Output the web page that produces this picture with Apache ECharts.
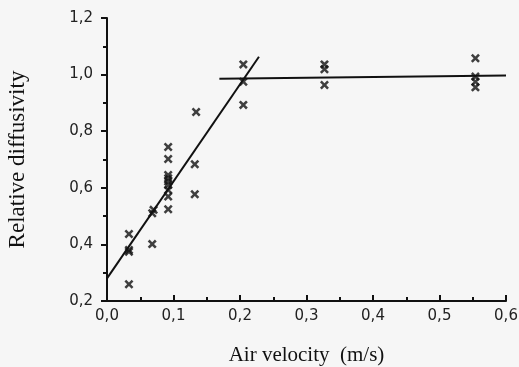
<!DOCTYPE html>
<html>
<head>
<meta charset="utf-8">
<script src="https://cdn.jsdelivr.net/npm/echarts@6/dist/echarts.min.js"></script>
<style>
html,body{margin:0;padding:0;background:#f6f6f6;}
#chart{width:519px;height:367px;}
</style>
</head>
<body>
<div id="chart"></div>
<script>
// Measured points (air velocity m/s, relative diffusivity)
const velocity = [0.033,0.033,0.033,0.033, 0.068,0.070,0.068,
  0.092,0.092,0.092,0.092,0.092,0.092,0.092,0.092,0.092,
  0.132,0.132,0.134, 0.205,0.205,0.205, 0.327,0.327,0.327,
  0.554,0.554,0.554,0.554];
const diffusivity = [0.259,0.437,0.374,0.380, 0.401,0.522,0.510,
  0.744,0.702,0.645,0.634,0.622,0.610,0.592,0.569,0.524,
  0.683,0.577,0.868, 1.036,0.975,0.893, 1.036,1.019,0.963,
  1.058,0.993,0.975,0.955];
// Fitted lines
const fit1X = [0.0, 0.2285];
const fit1Y = [0.28, 1.063];
const fit2X = [0.169, 0.6];
const fit2Y = [0.985, 0.997];
const xTicks = [0, 0.6, 0.1];
const yTicks = [0.2, 1.2, 0.2];

const pts = velocity.map((v,i)=>[v, diffusivity[i]]);
const l1 = fit1X.map((v,i)=>[v, fit1Y[i]]);
const l2 = fit2X.map((v,i)=>[v, fit2Y[i]]);
const comma = v => v.toFixed(1).replace('.', ',');
const X = 'path://M0,2L2,0L5,3L8,0L10,2L7,5L10,8L8,10L5,7L2,10L0,8L3,5Z';

const chart = echarts.init(document.getElementById('chart'));
chart.setOption({
  backgroundColor: '#f6f6f6',
  animation: false,
  grid: {left: 107, right: 13, top: 18, bottom: 66, containLabel: false, outerBoundsMode: 'none'},
  xAxis: {
    type: 'value', min: xTicks[0], max: xTicks[1], interval: xTicks[2],
    name: 'Air velocity  (m/s)', nameLocation: 'middle', nameGap: 44,
    nameTextStyle: {fontFamily: 'Liberation Serif', fontSize: 21, color: '#111'},
    axisLine: {onZero: false, lineStyle: {color: '#111', width: 2}},
    axisTick: {inside: true, length: 6, lineStyle: {color: '#111', width: 2}},
    minorTick: {show: true, splitNumber: 2, length: 4, lineStyle: {color: '#111', width: 2}},
    splitLine: {show: false},
    axisLabel: {formatter: comma, margin: 8, fontFamily: 'DejaVu Sans', fontSize: 15, color: '#222'}
  },
  yAxis: {
    type: 'value', min: yTicks[0], max: yTicks[1], interval: yTicks[2],
    name: 'Relative diffusivity', nameLocation: 'middle', nameGap: 78,
    nameTextStyle: {fontFamily: 'Liberation Serif', fontSize: 23, color: '#111'},
    axisLine: {onZero: false, lineStyle: {color: '#111', width: 2}},
    axisTick: {length: 6, lineStyle: {color: '#111', width: 2}},
    minorTick: {show: true, splitNumber: 2, length: 4, lineStyle: {color: '#111', width: 2}},
    splitLine: {show: false},
    axisLabel: {formatter: comma, margin: 14, fontFamily: 'DejaVu Sans', fontSize: 15, color: '#222'}
  },
  series: [
    {type: 'line', data: l1, symbol: 'none', lineStyle: {color: '#111', width: 2}},
    {type: 'line', data: l2, symbol: 'none', lineStyle: {color: '#111', width: 2}},
    {type: 'scatter', data: pts, symbol: X, symbolSize: 9, itemStyle: {color: '#111'}}
  ]
});
</script>
</body>
</html>
